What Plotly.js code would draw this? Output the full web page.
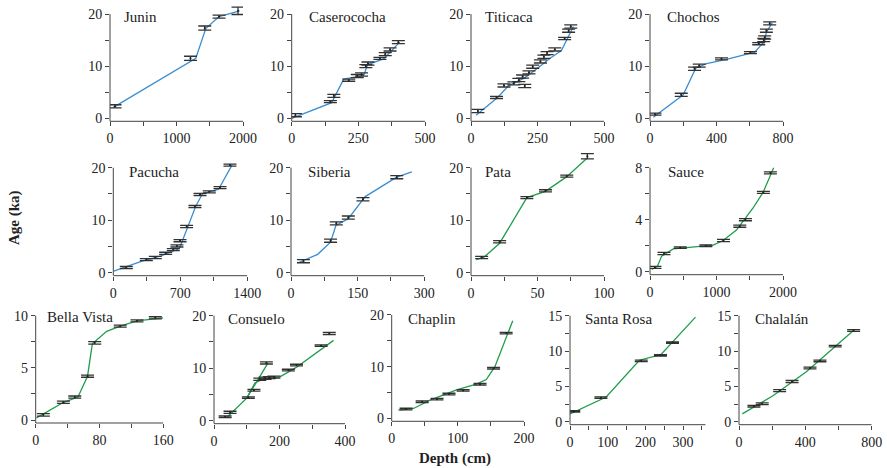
<!DOCTYPE html>
<html>
<head>
<meta charset="utf-8">
<script src="https://cdn.plot.ly/plotly-3.0.1.min.js"></script>
<style>html,body{margin:0;padding:0;background:#fff;}#chart{width:887px;height:468px;}</style>
</head>
<body>
<div id="chart"></div>
<script>
// ---------------- DATA ----------------
const panelNames = ['Junin','Caserococha','Titicaca','Chochos','Pacucha','Siberia','Pata','Sauce','Bella Vista','Consuelo','Chaplin','Santa Rosa','Chalalán'];

const junDepth = [75, 1210, 1425, 1640, 1925];
const junAge   = [2.3, 11.5, 17.3, 19.5, 20.6];
const junErr   = [0.3, 0.4, 0.4, 0.3, 0.7];
const junModelDepth = [50, 1240, 1290, 1440, 1640, 1950];
const junModelAge   = [2.1, 11.0, 11.5, 17.2, 19.5, 20.6];

const casDepth = [14, 145, 158, 214, 246, 262, 278, 286, 331, 351, 369, 400];
const casAge   = [0.6, 3.2, 4.3, 7.3, 8.1, 8.4, 10.0, 10.5, 11.5, 12.3, 13.2, 14.6];
const casErr   = [0.3, 0.2, 0.3, 0.2, 0.3, 0.3, 0.3, 0.3, 0.2, 0.3, 0.3, 0.3];
const casModelDepth = [0, 150, 195, 270, 285, 345, 405];
const casModelAge   = [0, 3.0, 7.5, 8.2, 10.3, 11.4, 14.6];

const titDepth = [26, 96, 124, 161, 180, 202, 194, 218, 232, 261, 274, 286, 315, 352, 367, 375];
const titAge   = [1.4, 4.0, 6.3, 6.7, 7.35, 6.2, 8.0, 8.8, 9.9, 10.9, 11.8, 12.5, 13.2, 15.3, 16.8, 17.6];
const titErr   = [0.3, 0.2, 0.3, 0.3, 0.3, 0.3, 0.3, 0.3, 0.3, 0.3, 0.3, 0.3, 0.3, 0.2, 0.3, 0.3];
const titModelDepth = [19, 60, 100, 140, 200, 250, 300, 340, 385];
const titModelAge   = [0.6, 2.3, 4.0, 6.2, 7.7, 9.6, 11.6, 13.0, 17.6];

const choDepth = [30, 188, 268, 296, 430, 604, 654, 684, 690, 700, 720];
const choAge   = [0.8, 4.5, 9.5, 10.1, 11.4, 12.6, 14.3, 15.0, 15.5, 16.8, 18.2];
const choErr   = [0.2, 0.3, 0.3, 0.3, 0.2, 0.2, 0.2, 0.3, 0.3, 0.3, 0.3];
const choModelDepth = [20, 200, 275, 340, 460, 630, 690, 700, 735];
const choModelAge   = [0.2, 4.5, 9.6, 10.5, 11.3, 12.7, 14.8, 16.5, 18.3];

const pacDepth = [136, 345, 439, 547, 627, 665, 697, 766, 853, 906, 1003, 1115, 1219];
const pacAge   = [1.0, 2.5, 2.9, 3.7, 4.4, 5.1, 6.1, 8.8, 12.6, 14.9, 15.4, 16.2, 20.5];
const pacErr   = [0.2, 0.2, 0.2, 0.2, 0.2, 0.2, 0.2, 0.2, 0.2, 0.2, 0.2, 0.2, 0.2];
const pacModelDepth = [5, 300, 500, 690, 780, 860, 930, 1100, 1240];
const pacModelAge   = [0.3, 2.2, 3.2, 4.6, 8.8, 12.6, 15.0, 15.9, 20.5];

const sibDepth = [28, 89, 102, 129, 162, 238];
const sibAge   = [2.2, 6.1, 9.4, 10.5, 14.0, 18.2];
const sibErr   = [0.3, 0.3, 0.3, 0.3, 0.3, 0.3];
const sibModelDepth = [16, 60, 89, 101, 129, 167, 238, 272];
const sibModelAge   = [1.9, 3.5, 5.8, 9.0, 10.3, 14.5, 18.2, 19.2];

const patDepth = [8, 21.5, 42, 56, 72, 87.5];
const patAge   = [2.9, 5.9, 14.3, 15.6, 18.4, 22.2];
const patErr   = [0.2, 0.2, 0.2, 0.2, 0.2, 0.5];
const patModelDepth = [4, 10, 21.5, 42, 56, 72, 88];
const patModelAge   = [2.5, 3.0, 5.6, 14.3, 15.5, 18.3, 22.0];

const sauDepth = [75, 210, 455, 840, 1105, 1350, 1435, 1705, 1810];
const sauAge   = [0.33, 1.4, 1.85, 2.0, 2.4, 3.5, 4.0, 6.1, 7.6];
const sauErr   = [0.08, 0.08, 0.06, 0.06, 0.08, 0.08, 0.08, 0.08, 0.08];
const sauModelDepth = [25, 110, 175, 350, 550, 950, 1100, 1300, 1550, 1700, 1860];
const sauModelAge   = [0.18, 0.4, 1.2, 1.75, 1.85, 2.05, 2.4, 3.2, 4.9, 6.1, 8.0];

const belDepth = [9.6, 34.7, 49, 65, 74, 106, 127, 150];
const belAge   = [0.5, 1.7, 2.2, 4.2, 7.4, 9.0, 9.5, 9.8];
const belErr   = [0.12, 0.1, 0.1, 0.1, 0.12, 0.1, 0.1, 0.1];
const belModelDepth = [1, 35, 53, 65, 71, 89, 106, 127, 160];
const belModelAge   = [0.2, 1.7, 2.2, 4.2, 7.3, 8.5, 9.0, 9.5, 9.8];

const conDepth = [34, 49, 105, 122, 140, 156, 169, 183, 160, 227, 252, 327, 352];
const conAge   = [0.76, 1.6, 4.4, 5.8, 7.9, 8.1, 8.2, 8.3, 11.0, 9.65, 10.6, 14.3, 16.6];
const conErr   = [0.15, 0.2, 0.15, 0.15, 0.2, 0.2, 0.2, 0.2, 0.2, 0.15, 0.15, 0.15, 0.2];
const conModelDepth = [39, 100, 125, 150, 200, 250, 365];
const conModelAge   = [0.6, 4.3, 7.2, 7.9, 8.3, 10.1, 15.3];
const conBranchDepth = [100, 165];
const conBranchAge   = [4.3, 11.0];

const chaDepth = [21.7, 46, 68.5, 86.6, 108, 133.5, 154, 173];
const chaAge   = [1.8, 3.2, 3.7, 4.7, 5.4, 6.6, 9.7, 16.5];
const chaErr   = [0.15, 0.15, 0.15, 0.15, 0.15, 0.15, 0.15, 0.15];
const chaModelDepth = [10, 33, 58, 98, 128, 143, 156, 183];
const chaModelAge   = [1.6, 1.9, 3.5, 5.5, 6.6, 7.5, 10.0, 18.9];

const sroDepth = [10, 82, 189, 240, 272];
const sroAge   = [1.45, 3.4, 8.6, 9.4, 11.2];
const sroErr   = [0.1, 0.1, 0.1, 0.1, 0.1];
const sroModelDepth = [0, 96, 184, 241, 333];
const sroModelAge   = [1.1, 3.5, 8.7, 9.5, 14.8];

const chlDepth = [90, 140, 245, 320, 428, 488, 580, 691];
const chlAge   = [2.2, 2.55, 4.4, 5.7, 7.6, 8.6, 10.7, 12.9];
const chlErr   = [0.12, 0.12, 0.15, 0.15, 0.12, 0.12, 0.1, 0.12];
const chlModelDepth = [20, 207, 408, 549, 690];
const chlModelAge   = [1.1, 3.7, 7.1, 10.0, 12.9];

// ---------------- LAYOUT CONFIG ----------------
const BLUE = '#3a8fd3', GREEN = '#1e9e48';
const W = 887, H = 468;
const FONT = 'Liberation Serif, Times New Roman, serif';

const panels = [
  {d:junDepth,a:junAge,e:junErr,m:[[junModelDepth,junModelAge]],c:BLUE, xmax:2000,xstep:500,xlab:1000, ytop:20,ystep:5,ylab:10,yr:22, px:[110,243],py:[118.3,14],lab:[122,17]},
  {d:casDepth,a:casAge,e:casErr,m:[[casModelDepth,casModelAge]],c:BLUE, xmax:500,xstep:125,xlab:250, ytop:20,ystep:5,ylab:10,yr:20.5, px:[291.7,425],py:[118.3,14],lab:[307,17]},
  {d:titDepth,a:titAge,e:titErr,m:[[titModelDepth,titModelAge]],c:BLUE, xmax:500,xstep:125,xlab:250, ytop:20,ystep:5,ylab:10,yr:20.5, px:[471,604],py:[118.3,14],lab:[483,17]},
  {d:choDepth,a:choAge,e:choErr,m:[[choModelDepth,choModelAge]],c:BLUE, xmax:800,xstep:200,xlab:400, ytop:20,ystep:5,ylab:10,yr:20.5, px:[650,783],py:[118.3,14],lab:[665,17]},
  {d:pacDepth,a:pacAge,e:pacErr,m:[[pacModelDepth,pacModelAge]],c:BLUE, xmax:1400,xstep:350,xlab:700, ytop:20,ystep:5,ylab:10,yr:21, px:[113.3,247.3],py:[272.7,167.7],lab:[126.7,171.7]},
  {d:sibDepth,a:sibAge,e:sibErr,m:[[sibModelDepth,sibModelAge]],c:BLUE, xmax:300,xstep:75,xlab:150, ytop:20,ystep:5,ylab:10,yr:20.5, px:[291,424.3],py:[272.7,167.7],lab:[306,171.7]},
  {d:patDepth,a:patAge,e:patErr,m:[[patModelDepth,patModelAge]],c:GREEN, xmax:100,xstep:25,xlab:50, ytop:20,ystep:5,ylab:10,yr:23.2, px:[471,604],py:[272.7,167.7],lab:[483,171.7]},
  {d:sauDepth,a:sauAge,e:sauErr,m:[[sauModelDepth,sauModelAge]],c:GREEN, xmax:2000,xstep:500,xlab:1000, ytop:8,ystep:2,ylab:4,yr:8.2, px:[650,783],py:[271.7,167.7],lab:[665.7,171.7]},
  {d:belDepth,a:belAge,e:belErr,m:[[belModelDepth,belModelAge]],c:GREEN, xmax:160,xstep:40,xlab:80, ytop:10,ystep:2.5,ylab:5,yr:10.2, px:[35.7,163.3],py:[420,315.7],lab:[45,316.7]},
  {d:conDepth,a:conAge,e:conErr,m:[[conModelDepth,conModelAge],[conBranchDepth,conBranchAge]],c:GREEN, xmax:400,xstep:100,xlab:200, ytop:20,ystep:5,ylab:10,yr:20.5, px:[214,345],py:[420.7,315.7],lab:[226,319]},
  {d:chaDepth,a:chaAge,e:chaErr,m:[[chaModelDepth,chaModelAge]],c:GREEN, xmax:200,xstep:50,xlab:100, ytop:20,ystep:5,ylab:10,yr:20.5, px:[391.7,524],py:[418.3,315],lab:[406,319]},
  {d:sroDepth,a:sroAge,e:sroErr,m:[[sroModelDepth,sroModelAge]],c:GREEN, xmax:360,xstep:50,xlab:100, ytop:15,ystep:2.5,ylab:5,yr:15.3, px:[570,705.7],py:[421.7,315.7],lab:[582.7,319]},
  {d:chlDepth,a:chlAge,e:chlErr,m:[[chlModelDepth,chlModelAge]],c:GREEN, xmax:800,xstep:200,xlab:400, ytop:15,ystep:2.5,ylab:5,yr:15.3, px:[739,871.7],py:[421.7,315.7],lab:[752.7,319]}
];

function ticks(max, step, lab){
  const v=[], t=[];
  for(let x=0; x<=max+1e-9; x+=step){
    v.push(x);
    const r = x/lab;
    t.push(Math.abs(r-Math.round(r))<1e-6 ? String(Math.round(x*100)/100) : '');
  }
  return {v,t};
}

const traces = [];
const layout = {
  width: W, height: H,
  margin: {l:0,r:0,t:0,b:0},
  paper_bgcolor: '#fff', plot_bgcolor: 'rgba(0,0,0,0)',
  showlegend: false,
  font: {family: FONT, size: 14, color: '#222'},
  shapes: [], annotations: []
};

panels.forEach((p, i) => {
  const id = i===0 ? '' : String(i+1);
  const xa = 'x'+id, ya = 'y'+id;
  const ppu = (p.py[0]-p.py[1]) / p.ytop;
  const yMin = -3/ppu;
  const bottomPx = p.py[0] + 3;
  const topPx = p.py[0] - p.yr*ppu;
  const xt = ticks(p.xmax, p.xstep, p.xlab);
  const yt = ticks(p.ytop, p.ystep, p.ylab);
  layout['xaxis'+id] = {
    domain: [p.px[0]/W, p.px[1]/W], range: [0, p.xmax], anchor: ya,
    tickmode: 'array', tickvals: xt.v, ticktext: xt.t,
    ticks: 'outside', ticklen: 4, tickwidth: 1, tickcolor: '#444',
    showline: false, showgrid: false, zeroline: false, fixedrange: true,
    tickfont: {family: FONT, size: 14, color: '#222'}
  };
  layout['yaxis'+id] = {
    domain: [1-bottomPx/H, 1-topPx/H], range: [yMin, p.yr], anchor: xa,
    tickmode: 'array', tickvals: yt.v, ticktext: yt.t,
    ticks: 'outside', ticklen: 4, tickwidth: 1, tickcolor: '#444',
    showline: false, showgrid: false, zeroline: false, fixedrange: true,
    tickfont: {family: FONT, size: 14, color: '#222'}
  };
  layout.shapes.push({type:'line', xref:xa, yref:ya+' domain', x0:0, x1:p.xmax, y0:0, y1:0, line:{color:'#444', width:1}});
  layout.shapes.push({type:'line', xref:xa+' domain', yref:ya, x0:0, x1:0, y0:yMin, y1:p.ytop, line:{color:'#444', width:1}});
  p.m.forEach(mm => {
    traces.push({x:mm[0], y:mm[1], type:'scatter', mode:'lines', xaxis:xa, yaxis:ya,
      line:{color:p.c, width:1.3}, hoverinfo:'skip'});
  });
  traces.push({x:p.d, y:p.a, type:'scatter', mode:'markers', xaxis:xa, yaxis:ya, cliponaxis:false,
    marker:{size:2, color:'#222'},
    error_y:{type:'data', array:p.e, visible:true, color:'#333', thickness:1.3, width:6.5},
    hoverinfo:'skip'});
  layout.annotations.push({text: panelNames[i], xref:'paper', yref:'paper', x:p.lab[0]/W, y:1-p.lab[1]/H,
    xanchor:'left', yanchor:'middle', showarrow:false, font:{family:FONT, size:15, color:'#222'}});
});

layout.annotations.push({text:'<b>Age (ka)</b>', xref:'paper', yref:'paper', x:14/W, y:1-218/H, textangle:-90,
  xanchor:'center', yanchor:'middle', showarrow:false, font:{family:FONT, size:15, color:'#222'}});
layout.annotations.push({text:'<b>Depth (cm)</b>', xref:'paper', yref:'paper', x:455/W, y:1-458/H,
  xanchor:'center', yanchor:'middle', showarrow:false, font:{family:FONT, size:15, color:'#222'}});

Plotly.newPlot('chart', traces, layout, {displayModeBar:false, staticPlot:true});
</script>
</body>
</html>
